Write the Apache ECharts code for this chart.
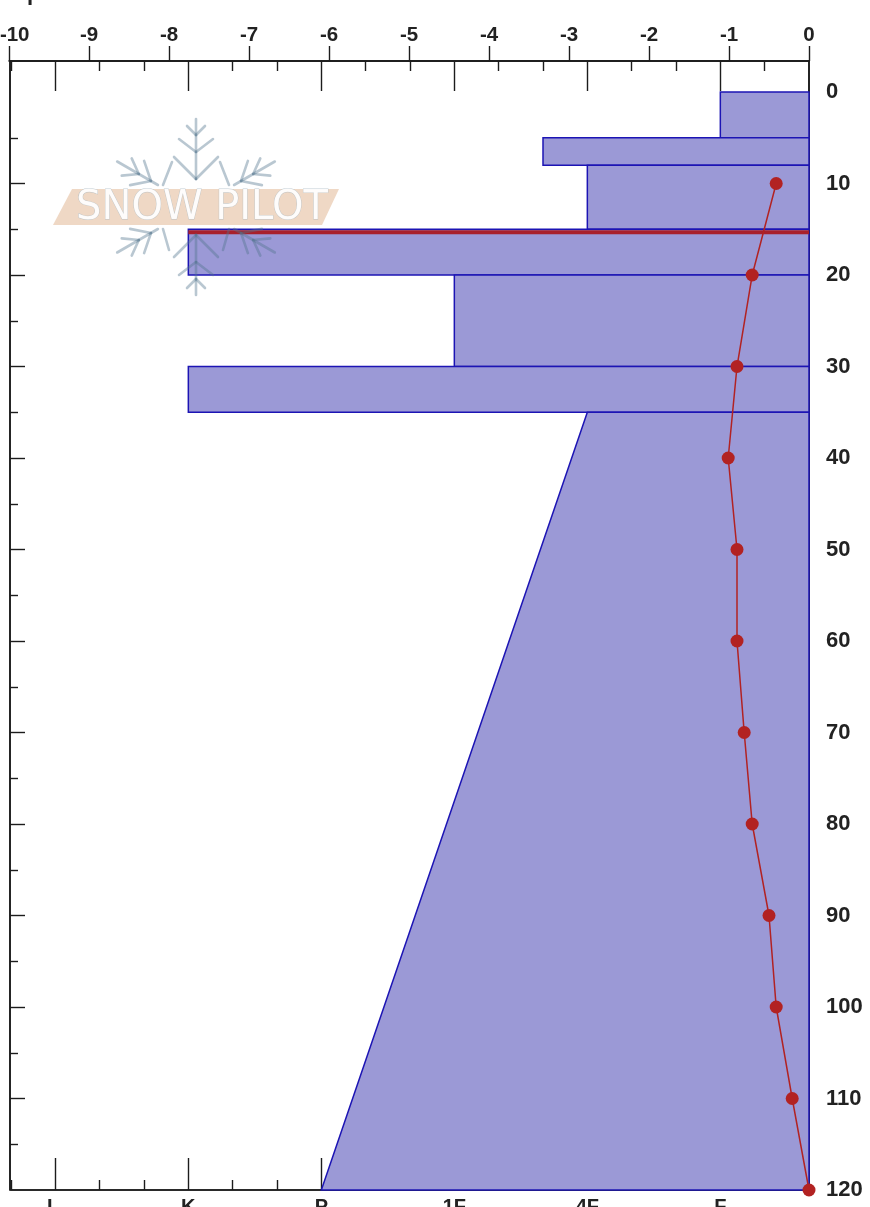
<!DOCTYPE html>
<html><head><meta charset="utf-8">
<style>html,body{margin:0;padding:0;background:#fff}#c{width:870px;height:1207px}</style>
<script src="https://cdn.jsdelivr.net/npm/echarts@6/dist/echarts.min.js"></script></head>
<body><div id="c"></div>
<script>
// Hardness scale: 0 at the right, 18 at the left edge
const hardnessLabels = ['F','4F','1F','P','K','I\u00a0\u00a0'];
const hardnessMajor = [2,5,8,11,14,17];
const hardnessMinor = [1,3,4,6,7,9,10,12,13,15,16,18];
const tempTicks = [-10,-9,-8,-7,-6,-5,-4,-3,-2,-1,0];
const depthLabels = [0,10,20,30,40,50,60,70,80,90,100,110,120];
const depthMajor = [10,20,30,40,50,60,70,80,90,100,110];
const depthMinor = [5,15,25,35,45,55,65,75,85,95,105,115];
// Layers: top depth, bottom depth, hardness at top, hardness at bottom
const layerTop = [0,5,8,15,20,30,35];
const layerBottom = [5,8,15,20,30,35,120];
const layerHardTop = [2,6,5,14,8,14,5];
const layerHardBottom = [2,6,5,14,8,14,11];
// Critical layer band
const criticalTop = [15.1];
const criticalBottom = [15.55];
const criticalHard = [14];
// Temperature profile
const tempDepth = [10,20,30,40,50,60,70,80,90,100,110,120];
const tempValue = [-0.41,-0.71,-0.9,-1.01,-0.9,-0.9,-0.81,-0.71,-0.5,-0.41,-0.21,0];

const INK='#1c1c1c';
const font={fontFamily:'"Liberation Sans",Arial,sans-serif',fontWeight:'bold',color:'#222'};
const chart=echarts.init(document.getElementById('c'),null,{renderer:'canvas'});

function hAxis(pos,vals,len,labels){
  return {type:'value',gridIndex:1,position:pos,min:0,max:18,inverse:true,
    axisLine:{show:true,onZero:false,lineStyle:{color:INK,width:1.6}},splitLine:{show:false},
    axisTick:{show:true,inside:true,length:len,customValues:vals,lineStyle:{color:INK,width:1.4}},
    axisLabel:labels?{show:true,customValues:hardnessMajor,margin:7,fontSize:20,...font,
      formatter:v=>hardnessLabels[hardnessMajor.indexOf(v)]}:{show:false}};
}
function dAxis(pos,vals,len,labels){
  return {type:'value',gridIndex:1,position:pos,offset:pos==='left'?1:0,min:-3.39,max:120,inverse:true,
    axisLine:{show:true,onZero:false,lineStyle:{color:INK,width:1.6}},splitLine:{show:false},
    axisTick:{show:true,inside:true,length:len,customValues:vals,lineStyle:{color:INK,width:1.4}},
    axisLabel:labels?{show:true,customValues:depthLabels,margin:17,fontSize:22,...font,align:'left',
      padding:[2,0,0,0],showMinLabel:true,showMaxLabel:true}:{show:false}};
}
const xAxes=[
  {type:'value',gridIndex:0,position:'top',min:-10,max:0,interval:1,
    axisLine:{show:true,onZero:false,lineStyle:{color:INK,width:1.6}},splitLine:{show:false},
    axisTick:{show:true,inside:false,length:15,lineStyle:{color:INK,width:1.4}},
    axisLabel:{show:true,margin:15,fontSize:20.5,...font,showMinLabel:true,showMaxLabel:true,
      formatter:v=>v===-10?'\u00a0\u00a0-10':String(v)}},
  hAxis('top',hardnessMajor,30,false),
  hAxis('top',hardnessMinor,10,false),
  hAxis('bottom',hardnessMajor,32,true),
  hAxis('bottom',hardnessMinor,10,false)
];
const yAxes=[
  dAxis('right',depthMajor,14,true),
  dAxis('right',depthMinor,8,false),
  dAxis('left',depthMajor,15,false),
  dAxis('left',depthMinor,8,false),
  {type:'value',gridIndex:0,show:false,min:-3.39,max:120,inverse:true}
];
const layerData=layerTop.map((t,i)=>[t,layerBottom[i],layerHardTop[i],layerHardBottom[i]]);
function renderLayer(params,api){
  const t=api.value(0),b=api.value(1),ht=api.value(2),hb=api.value(3);
  const pts=[api.coord([0,t]),api.coord([ht,t]),api.coord([hb,b]),api.coord([0,b])];
  return {type:'polygon',shape:{points:pts},style:{fill:'#9b99d6',stroke:'#1c14b4',lineWidth:1.5}};
}
function renderCritical(params,api){
  const t=api.value(0),b=api.value(1),h=api.value(2);
  const pts=[api.coord([0,t]),api.coord([h,t]),api.coord([h,b]),api.coord([0,b])];
  return {type:'polygon',shape:{points:pts},style:{fill:'#a8202c',stroke:null}};
}
// Watermark
const flakeStroke={stroke:'rgba(80,115,140,0.4)',lineWidth:2.6,fill:null,lineCap:'round'};
const mainArm=[[[0,-28],[0,-88]],[[0,-28],[-22,-50]],[[0,-28],[22,-50]],[[0,-55],[-17,-68]],[[0,-55],[17,-68]],[[0,-72],[-9,-81]],[[0,-72],[9,-81]]];
const sideArm=[[[0,-44],[0,-91]],[[0,-52],[-14,-68]],[[0,-52],[14,-68]],[[0,-66],[-10,-80]],[[0,-66],[10,-80]]];
const loose=[[[-33,-22],[-24,-45]],[[33,-22],[24,-45]],[[-33,22],[-27,43]],[[33,22],[27,43]]];
const lines=s=>s.map(p=>({type:'polyline',z:50,silent:true,shape:{points:p},style:flakeStroke}));
const flake={type:'group',x:196,y:207,silent:true,children:[
  ...[0,180].map(a=>({type:'group',rotation:a*Math.PI/180,children:lines(mainArm)})),
  ...[60,120,240,300].map(a=>({type:'group',rotation:a*Math.PI/180,children:lines(sideArm)})),
  ...lines(loose)
]};
const badge={type:'polygon',z:51,silent:true,shape:{points:[[72,189],[339,189],[322,225],[53,225]]},style:{fill:'#efd8c5'}};
const bt={type:'text',z:52,silent:true,x:202,y:209,style:{text:'SNOW PILOT',fill:'rgba(255,255,255,0.92)',stroke:'rgba(170,185,195,0.7)',lineWidth:0.8,
  font:'40px "DejaVu Sans"',align:'center',verticalAlign:'middle'}};
const clipped={type:'text',x:27,y:-17,z:60,silent:true,style:{text:'p',fill:'#222',font:'bold 22px "Liberation Sans"'}};

chart.setOption({
  animation:false,backgroundColor:'#fff',
  grid:[
    {left:9,right:61,top:61,bottom:17,containLabel:false,outerBoundsMode:'none'},
    {left:11,right:61,top:61,bottom:17,containLabel:false,outerBoundsMode:'none'}
  ],
  xAxis:xAxes,yAxis:yAxes,
  graphic:[flake,badge,bt,clipped],
  series:[
    {type:'custom',xAxisIndex:3,yAxisIndex:0,data:layerData,renderItem:renderLayer,z:2,clip:false,
      encode:{x:[2,3],y:[0,1]},silent:true},
    {type:'custom',xAxisIndex:3,yAxisIndex:0,data:[[criticalTop[0],criticalBottom[0],criticalHard[0]]],renderItem:renderCritical,z:3,clip:false,
      encode:{x:2,y:[0,1]},silent:true},
    {type:'line',xAxisIndex:0,yAxisIndex:4,z:5,clip:false,symbol:'circle',symbolSize:13,
      data:tempValue.map((v,i)=>[v,tempDepth[i]]),
      lineStyle:{color:'#b22222',width:1.5},itemStyle:{color:'#b22222'}}
  ]
});
</script></body></html>
